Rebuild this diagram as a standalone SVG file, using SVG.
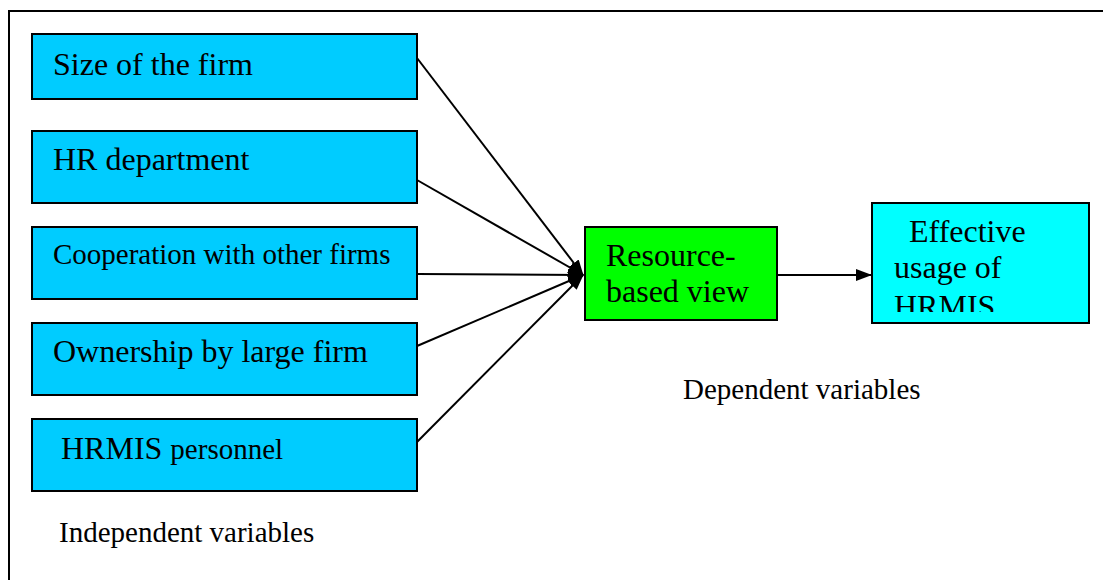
<svg xmlns="http://www.w3.org/2000/svg" width="1103" height="580" viewBox="0 0 1103 580">
  <style>
    text { font-family: "Liberation Serif", "Times New Roman", serif; fill: #000; }
    .box { stroke: #000; stroke-width: 2; }
    .ind { fill: #00CCFF; }
    .rbv { fill: #00FF00; }
    .eff { fill: #00FFFF; }
    .lbl { font-size: 32px; }
    .sm { font-size: 29px; }
    .conn { stroke: #000; stroke-width: 2; fill: none; marker-end: url(#arrow); }
  </style>
  <defs>
    <marker id="arrow" viewBox="0 0 16 12" refX="15" refY="6" markerWidth="16" markerHeight="12" markerUnits="userSpaceOnUse" orient="auto">
      <path d="M0,0 L16,6 L0,12 Z" fill="#000"/>
    </marker>
    <clipPath id="effClip">
      <rect x="872" y="203" width="217" height="109"/>
    </clipPath>
  </defs>
  <rect width="1103" height="580" fill="#fff"/>

  <!-- outer frame (open on right and bottom) -->
  <path d="M9,580 V11 H1103" stroke="#000" stroke-width="2" fill="none"/>

  <g id="size-of-firm">
    <rect class="box ind" x="32" y="34" width="385" height="65"/>
    <text class="lbl" x="53" y="75">Size of the firm</text>
  </g>
  <g id="hr-department">
    <rect class="box ind" x="32" y="131" width="385" height="72"/>
    <text class="lbl" x="53" y="170">HR department</text>
  </g>
  <g id="cooperation">
    <rect class="box ind" x="32" y="227" width="385" height="72"/>
    <text class="sm" x="53" y="264">Cooperation with other firms</text>
  </g>
  <g id="ownership">
    <rect class="box ind" x="32" y="323" width="385" height="72"/>
    <text class="lbl" x="53" y="362">Ownership by large firm</text>
  </g>
  <g id="hrmis-personnel">
    <rect class="box ind" x="32" y="419" width="385" height="72"/>
    <text x="61" y="459"><tspan class="lbl">HRMIS </tspan><tspan class="sm">personnel</tspan></text>
  </g>

  <g id="resource-based-view">
    <rect class="box rbv" x="585" y="227" width="192" height="93"/>
    <text class="lbl" x="606" y="266">Resource-</text>
    <text class="lbl" x="606" y="302">based view</text>
  </g>

  <g id="effective-usage">
    <rect class="box eff" x="872" y="203" width="217" height="120"/>
    <g clip-path="url(#effClip)">
      <text class="lbl" x="909" y="242">Effective</text>
      <text class="lbl" x="894" y="278">usage of</text>
      <text class="lbl" x="894" y="317">HRMIS</text>
    </g>
  </g>

  <g id="connectors">
    <line class="conn" x1="417" y1="58" x2="583" y2="275"/>
    <line class="conn" x1="417" y1="180" x2="583" y2="275"/>
    <line class="conn" x1="417" y1="274" x2="583" y2="275"/>
    <line class="conn" x1="417" y1="346" x2="583" y2="275"/>
    <line class="conn" x1="417" y1="442" x2="583" y2="275"/>
    <line class="conn" x1="777" y1="275" x2="871" y2="275"/>
  </g>

  <g id="captions">
    <text class="sm" x="683" y="399">Dependent variables</text>
    <text class="sm" x="59" y="542">Independent variables</text>
  </g>
</svg>
